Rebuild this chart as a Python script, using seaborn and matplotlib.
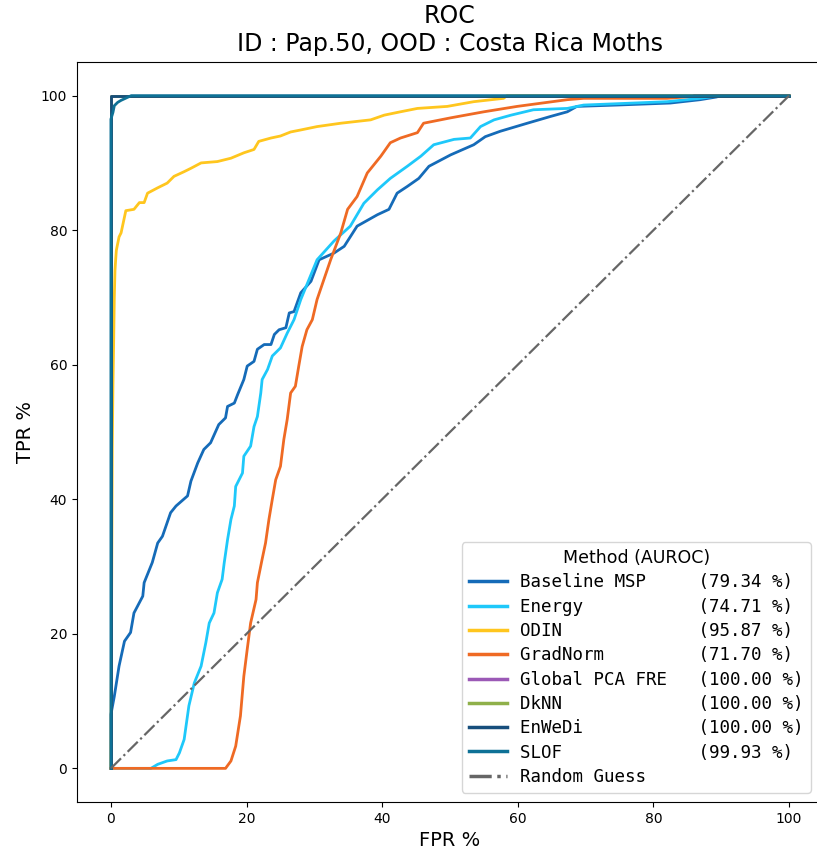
import numpy as np
import pandas as pd
import matplotlib
matplotlib.use("Agg")
import matplotlib.pyplot as plt
import seaborn as sns

# ---- data ----
methods = ["Baseline MSP", "Energy", "ODIN", "GradNorm",
           "Global PCA FRE", "DkNN", "EnWeDi", "SLOF"]
auroc = ["79.34", "74.71", "95.87", "71.70", "100.00", "100.00", "100.00", "99.93"]
colors = ["#156bb8", "#1ec8fa", "#ffc61e", "#ef6a24",
          "#9b59b6", "#8fb04a", "#174e7c", "#0e7196"]

msp_fpr = [0, 0, 0.5, 1.2, 2.0, 2.9, 3.4, 4.7, 4.9, 6.1, 6.9, 7.6, 8.8, 9.6, 11.3, 11.8,
           12.8, 13.7, 14.7, 15.9, 16.9, 17.2, 18.2, 18.7, 19.6, 20.1, 21.1, 21.6, 22.6,
           23.6, 24.1, 24.8, 25.8, 26.3, 27.0, 28.0, 29.5, 30.7, 32.9, 34.4, 36.3, 39.3,
           41.0, 42.2, 43.7, 45.4, 46.9, 50.1, 53.5, 55.2, 57.4, 61.4, 64.8, 67.3, 68.7,
           74.6, 82.5, 86.9, 89.3, 90.0, 100]
msp_tpr = [0, 8.0, 10.7, 15.2, 18.9, 20.2, 23.1, 25.6, 27.6, 30.6, 33.5, 34.5, 38.0, 39.0,
           40.5, 42.7, 45.4, 47.4, 48.4, 51.1, 52.1, 53.8, 54.3, 55.6, 57.8, 59.8, 60.5,
           62.3, 63.0, 63.0, 64.5, 65.2, 65.5, 67.7, 67.9, 70.7, 72.4, 75.6, 76.6, 77.6,
           80.6, 82.3, 83.1, 85.5, 86.5, 87.7, 89.5, 91.2, 92.7, 93.9, 94.7, 95.9, 96.9,
           97.6, 98.4, 98.6, 98.9, 99.4, 99.8, 100, 100]

energy_fpr = [0, 5.9, 6.9, 8.3, 9.6, 10.1, 10.8, 11.5, 12.3, 13.3, 14.0, 14.5, 15.2, 15.7,
              16.4, 16.7, 17.2, 17.7, 18.2, 18.4, 19.4, 19.6, 20.6, 21.1, 21.6, 22.1,
              22.3, 23.1, 23.8, 25.0, 26.0, 27.0, 28.0, 30.4, 32.9, 35.3, 37.3, 39.3,
              41.2, 43.7, 45.7, 47.6, 50.6, 53.0, 54.5, 56.5, 59.0, 62.3, 67.3, 69.7,
              77.1, 82.0, 86.9, 89.8, 100]
energy_tpr = [0, 0, 0.6, 1.1, 1.3, 2.3, 4.3, 9.3, 12.7, 15.2, 18.7, 21.6, 23.1, 26.1,
              28.1, 30.5, 34.0, 37.0, 39.0, 41.9, 43.9, 46.4, 47.9, 50.8, 52.3, 55.8,
              57.8, 59.3, 61.3, 62.5, 64.7, 66.7, 69.7, 75.6, 78.4, 80.6, 84.0, 86.0,
              87.7, 89.5, 91.0, 92.7, 93.5, 93.7, 95.4, 96.4, 97.1, 97.9, 98.1, 98.6,
              98.9, 99.1, 99.6, 100, 100]

odin_fpr = [0, 0.2, 0.3, 0.4, 0.5, 0.6, 0.7, 0.8, 1.2, 1.5, 2.2, 3.4, 4.2, 4.9, 5.4, 6.9,
            8.3, 9.3, 10.8, 11.8, 13.3, 15.7, 17.7, 19.6, 21.1, 21.8, 23.6, 25.0, 26.5,
            28.0, 30.4, 33.9, 38.3, 40.3, 42.7, 45.2, 49.6, 53.5, 57.9, 58.4, 100]
odin_tpr = [0, 47.7, 57.0, 63.0, 70.0, 74.0, 75.6, 77.0, 79.0, 79.6, 82.9, 83.1, 84.1,
            84.1, 85.5, 86.3, 87.0, 88.0, 88.7, 89.2, 90.0, 90.2, 90.7, 91.5, 92.0,
            93.2, 93.7, 94.0, 94.6, 94.9, 95.4, 95.9, 96.4, 97.1, 97.6, 98.1, 98.4,
            99.1, 99.6, 100, 100]

grad_fpr = [0, 16.9, 17.7, 18.4, 19.1, 19.6, 20.1, 20.6, 21.4, 21.6, 22.3, 22.8, 23.3,
            23.8, 24.3, 25.0, 25.5, 26.0, 26.5, 27.2, 27.7, 28.2, 28.9, 29.7, 30.4,
            32.4, 33.9, 34.9, 36.3, 37.8, 39.8, 41.2, 42.7, 45.2, 46.1, 50.1, 55.0,
            59.9, 67.3, 69.7, 82.0, 85.9, 86.0, 100]
grad_tpr = [0, 0, 1.1, 3.3, 7.8, 13.7, 17.7, 21.6, 25.1, 27.6, 31.1, 33.5, 37.0, 40.0,
            42.9, 44.9, 48.9, 51.9, 55.8, 56.8, 59.8, 62.7, 65.2, 66.7, 69.7, 75.6,
            79.6, 83.1, 85.0, 88.5, 91.0, 93.0, 93.7, 94.5, 95.9, 96.7, 97.6, 98.4,
            99.4, 99.6, 99.6, 99.9, 100, 100]

perfect_fpr = [0, 0, 100]
perfect_tpr = [0, 100, 100]

slof_fpr = [0, 0, 0.3, 0.5, 1.0, 1.5, 3.0, 100]
slof_tpr = [0, 96.5, 97.5, 98.5, 99.0, 99.3, 100, 100]

curves_fpr = [msp_fpr, energy_fpr, odin_fpr, grad_fpr,
              perfect_fpr, perfect_fpr, perfect_fpr, slof_fpr]
curves_tpr = [msp_tpr, energy_tpr, odin_tpr, grad_tpr,
              perfect_tpr, perfect_tpr, perfect_tpr, slof_tpr]

title = "ROC\nID : Pap.50, OOD : Costa Rica Moths"

# ---- build long table ----
width = max(len(m) for m in methods) + 3
labels = [f"{m:<{width}}({a} %)" for m, a in zip(methods, auroc)]
rows = []
for lab, fx, ty in zip(labels, curves_fpr, curves_tpr):
    for i, (x, y) in enumerate(zip(fx, ty)):
        rows.append({"Method": lab, "FPR": x, "TPR": y, "order": i})
df = pd.DataFrame(rows)

# ---- figure ----
fig = plt.figure(figsize=(8.17, 8.55), dpi=100)
ax = fig.add_axes([77 / 817, 53 / 855, (823 - 77) / 817, (802 - 62) / 855])

sns.lineplot(data=df, x="FPR", y="TPR", hue="Method", hue_order=labels,
             palette=dict(zip(labels, colors)), estimator=None, sort=False,
             units="Method", linewidth=2, ax=ax, legend=True)
ax.plot([0, 100], [0, 100], linestyle="-.", color="#666666", linewidth=1.6,
        label="Random Guess")

ax.set_xlim(-5, 105)
ax.set_ylim(-5, 105)
ax.set_xticks([0, 20, 40, 60, 80, 100])
ax.set_yticks([0, 20, 40, 60, 80, 100])
ax.tick_params(labelsize=10)
ax.set_xlabel("FPR %", fontsize=14)
ax.set_ylabel("TPR %", fontsize=14)
ax.set_title(title, fontsize=17, x=(450 - 77) / (823 - 77), pad=8)

handles, labs = ax.get_legend_handles_labels()
leg = ax.legend(handles, labs, title="Method (AUROC)", loc="lower right",
                bbox_to_anchor=((811 - 77) / (823 - 77), (802 - 793) / (802 - 62)),
                prop={"family": "DejaVu Sans Mono", "size": 12.65},
                title_fontsize=12.5, handlelength=2.2, handletextpad=0.75,
                labelspacing=0.36, borderpad=0.4, borderaxespad=0.0)
for line in leg.get_lines():
    line.set_linewidth(2.5)

fig.savefig("out.png", dpi=100)
